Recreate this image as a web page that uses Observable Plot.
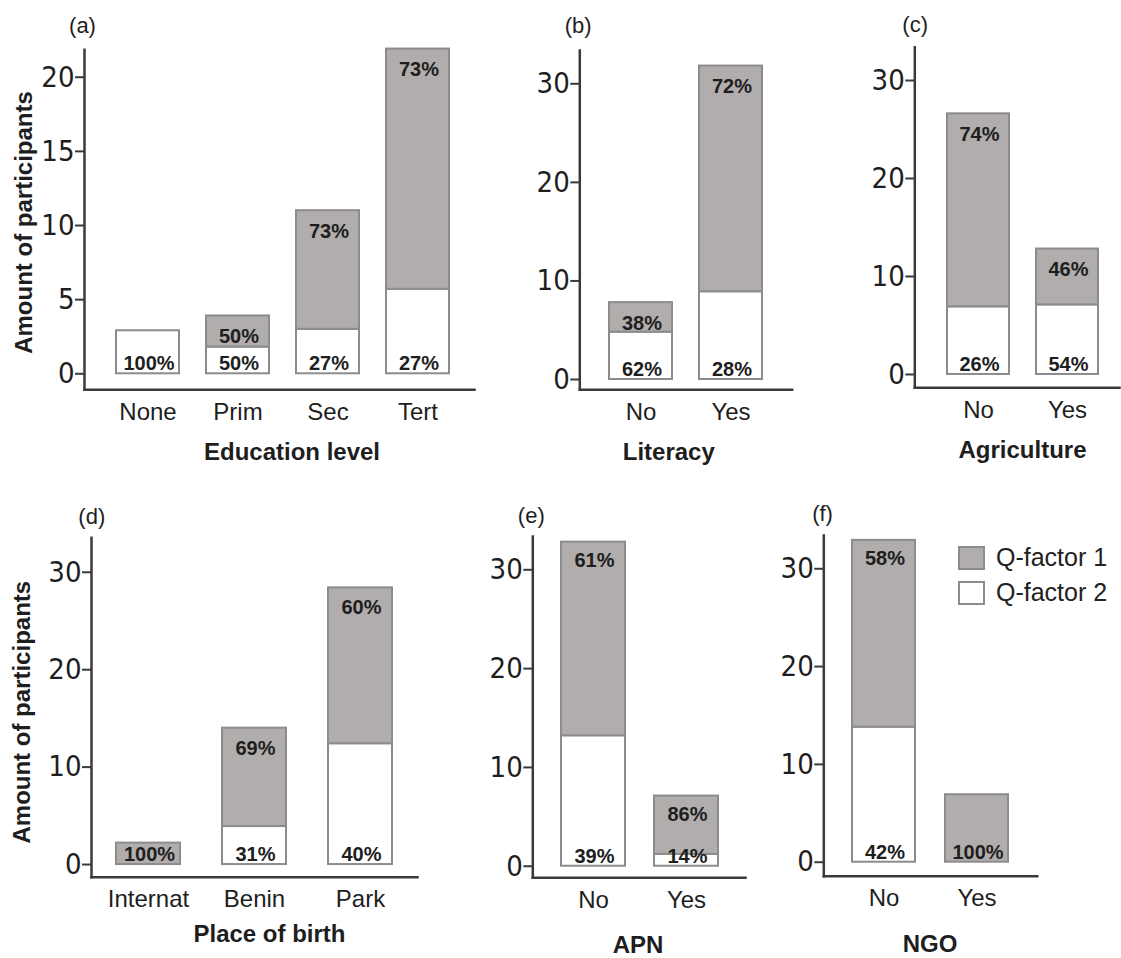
<!DOCTYPE html>
<html>
<head>
<meta charset="utf-8">
<script src="https://cdn.jsdelivr.net/npm/d3@7"></script>
<script src="https://cdn.jsdelivr.net/npm/@observablehq/plot@0.6"></script>
<style>
  html, body { margin: 0; padding: 0; background: #fff; }
  #root { position: relative; width: 1121px; height: 958px; overflow: hidden; font-family: "Liberation Sans", Arial, sans-serif; }
  .panel { position: absolute; }
  .legend { position: absolute; left: 958px; top: 546px; font-size: 25px; color: #222; }
  .legend .item { position: relative; height: 35px; }
  .legend .sw { position: absolute; left: 0; width: 23px; height: 20px; border: 2px solid #8c8c8c; }
  .legend .lab { position: absolute; left: 38px; top: -3px; white-space: nowrap; line-height: 28px; }
</style>
</head>
<body>
<div id="root"></div>
<script>
// ---------------- data ----------------
const factors = ["Q-factor 1", "Q-factor 2"];

const eduCats = ["None", "Prim", "Sec", "Tert"];
const eduQ1 = [0, 2.1, 8, 16.2];
const eduQ2 = [2.9, 1.8, 3, 5.7];
const eduP1 = ["", "50%", "73%", "73%"];
const eduP2 = ["100%", "50%", "27%", "27%"];

const litCats = ["No", "Yes"];
const litQ1 = [3.0, 22.9];
const litQ2 = [4.8, 8.9];
const litP1 = ["38%", "72%"];
const litP2 = ["62%", "28%"];

const agrCats = ["No", "Yes"];
const agrQ1 = [19.7, 5.7];
const agrQ2 = [6.9, 7.1];
const agrP1 = ["74%", "46%"];
const agrP2 = ["26%", "54%"];

const birthCats = ["Internat", "Benin", "Park"];
const birthQ1 = [2.2, 10.1, 16.0];
const birthQ2 = [0, 3.9, 12.4];
const birthP1 = ["100%", "69%", "60%"];
const birthP2 = ["", "31%", "40%"];

const apnCats = ["No", "Yes"];
const apnQ1 = [19.6, 5.9];
const apnQ2 = [13.2, 1.2];
const apnP1 = ["61%", "86%"];
const apnP2 = ["39%", "14%"];

const ngoCats = ["No", "Yes"];
const ngoQ1 = [19.1, 6.9];
const ngoQ2 = [13.8, 0];
const ngoP1 = ["58%", "100%"];
const ngoP2 = ["42%", ""];

const ticksA = [0, 5, 10, 15, 20];
const ticksB = [0, 10, 20, 30];

// ---------------- styles ----------------
const GREY = "#b1adac";
const BAR_STROKE = "#8c8c8c";
const AXIS = "#3a3a3a";
const TXT = "#1e1e1e";
const NARROW = "'Liberation Sans Narrow', 'DejaVu Sans Condensed', 'Roboto Condensed', 'Liberation Sans', sans-serif";

// layout per panel (page coordinates)
const panels = [
  {tag: "(a)", title: "Education level", yTitle: "Amount of participants", cats: eduCats, q1: eduQ1, q2: eduQ2, p1: eduP1, p2: eduP2, ticks: ticksA,
   box: [0, 0, 480, 475], frame: [84, 474, 49.3, 389.3], y: [-1.08, 21.85], xr: [115, 450.7], pI: 0.30,
   tagXY: [82, 25], titleXY: [291.5, 452], yTitleXY: [24, 222], topDy: 21},
  {tag: "(b)", title: "Literacy", cats: litCats, q1: litQ1, q2: litQ2, p1: litP1, p2: litP2, ticks: ticksB,
   box: [480, 0, 320, 475], frame: [579.3, 791.7, 50, 389.3], y: [-1.045, 33.38], xr: [608.3, 762], pI: 0.30,
   tagXY: [577.7, 25], titleXY: [668.3, 452], topDy: 21},
  {tag: "(c)", title: "Agriculture", cats: agrCats, q1: agrQ1, q2: agrQ2, p1: agrP1, p2: agrP2, ticks: ticksB,
   box: [800, 0, 321, 475], frame: [914.3, 1119, 46.7, 387.3], y: [-1.36, 33.4], xr: [946.7, 1099], pI: 0.30,
   tagXY: [914.7, 24], titleXY: [1022, 450], topDy: 21},
  {tag: "(d)", title: "Place of birth", yTitle: "Amount of participants", cats: birthCats, q1: birthQ1, q2: birthQ2, p1: birthP1, p2: birthP2, ticks: ticksB,
   box: [0, 475, 470, 483], frame: [91, 417, 537.3, 876.7], y: [-1.30, 33.54], xr: [115, 392.3], pI: 0.40,
   tagXY: [91.3, 516.7], titleXY: [269, 934], yTitleXY: [21.7, 711.7], topDy: 20},
  {tag: "(e)", title: "APN", cats: apnCats, q1: apnQ1, q2: apnQ2, p1: apnP1, p2: apnP2, ticks: ticksB,
   box: [470, 475, 300, 483], frame: [532.3, 745, 536, 877.3], y: [-1.17, 33.37], xr: [560.7, 718.3], pI: 0.31,
   tagXY: [530.8, 515], titleXY: [637.5, 945], topDy: 18.5},
  {tag: "(f)", title: "NGO", cats: ngoCats, q1: ngoQ1, q2: ngoQ2, p1: ngoP1, p2: ngoP2, ticks: ticksB,
   box: [770, 475, 351, 483], frame: [823.3, 1036.7, 535, 875.7], y: [-1.43, 33.4], xr: [851.7, 1008.3], pI: 0.32,
   tagXY: [822, 513], titleXY: [929.5, 944], topDy: 18.5}
];

const root = document.getElementById("root");
const centered = {textAnchor: "middle", lineAnchor: "middle"};

for (const p of panels) {
  const [L, T, W, H] = p.box;
  const [fL, fR, fT, fB] = p.frame;
  const rows = [];
  const topLabels = [];
  const botLabels = [];
  p.cats.forEach((c, i) => {
    if (p.q2[i] > 0) rows.push({cat: c, factor: "Q-factor 2", value: p.q2[i]});
    if (p.q1[i] > 0) rows.push({cat: c, factor: "Q-factor 1", value: p.q1[i]});
    if (p.q2[i] > 0) {
      botLabels.push({cat: c, y: 0, t: p.p2[i]});
      if (p.q1[i] > 0) topLabels.push({cat: c, y: p.q1[i] + p.q2[i], t: p.p1[i]});
    } else {
      botLabels.push({cat: c, y: 0, t: p.p1[i]});
    }
  });

  const marks = [
    Plot.barY(rows, {x: "cat", y: "value", fill: "factor", stroke: BAR_STROKE, strokeWidth: 2,
      order: ["Q-factor 2", "Q-factor 1"]}),
    Plot.axisY({ticks: p.ticks, tickSize: 9, tickPadding: 1, stroke: AXIS, strokeWidth: 2,
      fontSize: 29, fontFamily: NARROW, fill: TXT, label: null, tickFormat: d => String(d)}),
    Plot.axisX({tickSize: 0, tickPadding: 13, fontSize: 24, fill: TXT, label: null}),
    Plot.frame({anchor: "left", stroke: AXIS, strokeWidth: 2.5}),
    Plot.frame({anchor: "bottom", stroke: AXIS, strokeWidth: 2.5}),
    Plot.text(topLabels, {x: "cat", y: "y", text: "t", dy: p.topDy, dx: 1, fontSize: 20, fontWeight: "bold", fill: TXT, ...centered}),
    Plot.text(botLabels, {x: "cat", y: "y", text: "t", dy: -10, dx: 1, fontSize: 20, fontWeight: "bold", fill: TXT, ...centered}),
    Plot.text([p.tag], {frameAnchor: "top-left", dx: p.tagXY[0] - fL, dy: p.tagXY[1] - fT, fontSize: 22, fill: TXT, ...centered}),
    Plot.text([p.title], {frameAnchor: "bottom", dx: p.titleXY[0] - (fL + fR) / 2, dy: p.titleXY[1] - fB,
      fontSize: 24, fontWeight: "bold", fill: TXT, ...centered})
  ];
  if (p.yTitle) {
    marks.push(Plot.text([p.yTitle], {frameAnchor: "left", rotate: -90,
      dx: p.yTitleXY[0] - fL, dy: p.yTitleXY[1] - (fT + fB) / 2, fontSize: 24, fontWeight: "bold", fill: TXT, ...centered}));
  }

  const chart = Plot.plot({
    width: W, height: H,
    marginLeft: fL - L, marginRight: L + W - fR, marginTop: fT - T, marginBottom: T + H - fB,
    x: {domain: p.cats, range: [p.xr[0] - L, p.xr[1] - L], paddingInner: p.pI, paddingOuter: 0, axis: null},
    y: {domain: p.y, axis: null},
    color: {domain: factors, range: [GREY, "#ffffff"]},
    style: {fontFamily: "'Liberation Sans', Arial, sans-serif", color: TXT, background: "transparent", overflow: "visible"},
    marks
  });
  const div = document.createElement("div");
  div.className = "panel";
  div.style.left = L + "px";
  div.style.top = T + "px";
  div.appendChild(chart);
  root.appendChild(div);
}

// legend
const leg = document.createElement("div");
leg.className = "legend";
const legFill = [GREY, "#ffffff"];
factors.forEach((f, i) => {
  const it = document.createElement("div");
  it.className = "item";
  const sw = document.createElement("div");
  sw.className = "sw";
  sw.style.background = legFill[i];
  const lab = document.createElement("div");
  lab.className = "lab";
  lab.textContent = f;
  it.appendChild(sw);
  it.appendChild(lab);
  leg.appendChild(it);
});
root.appendChild(leg);
</script>
</body>
</html>
